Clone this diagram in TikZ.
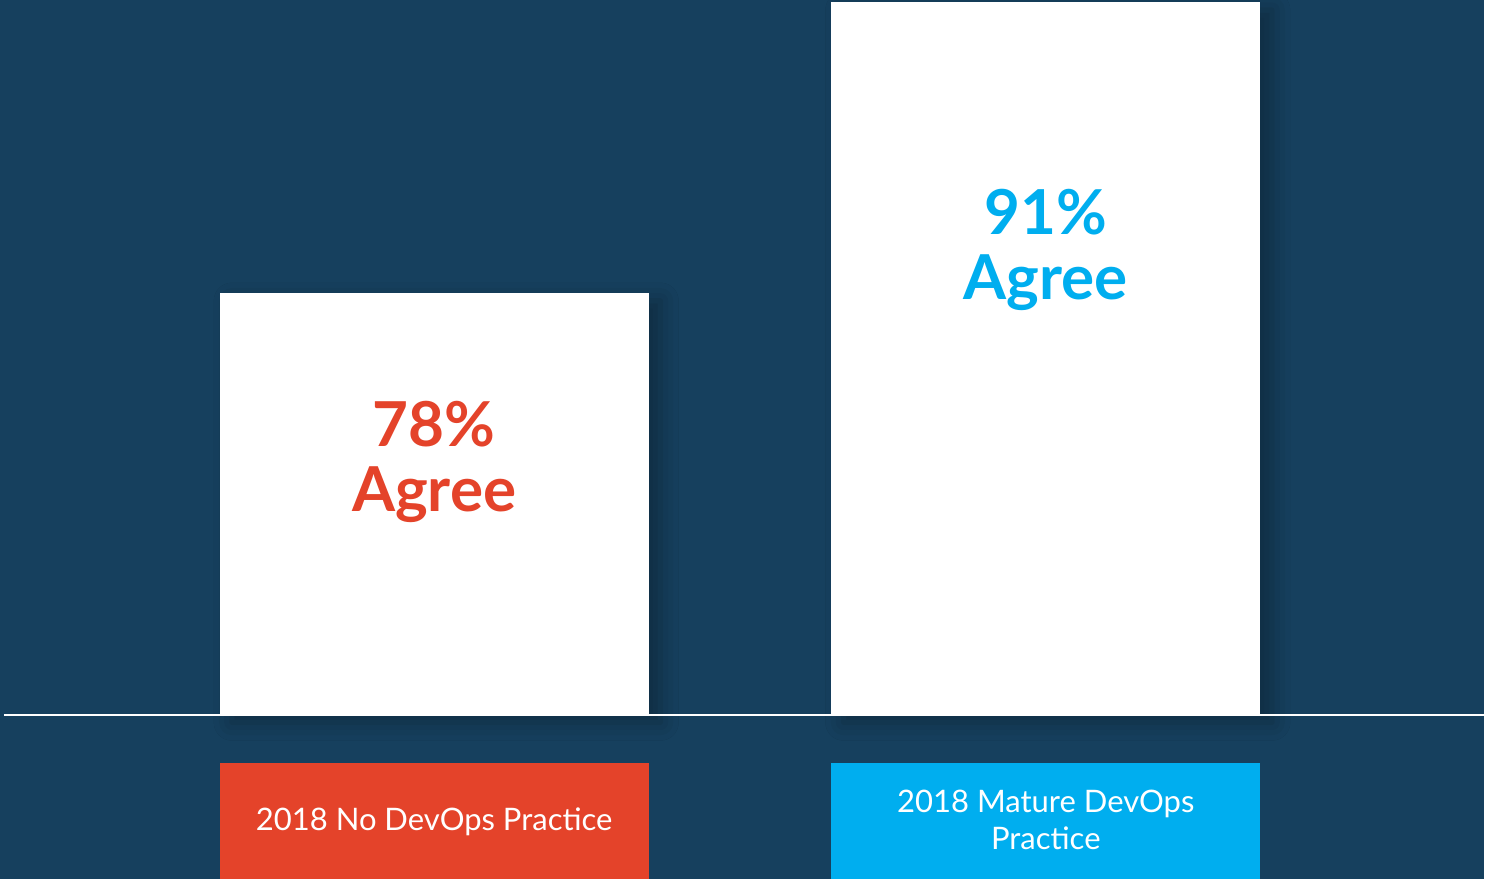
\documentclass[tikz,border=0pt]{standalone}
\usepackage{fontspec}
\setmainfont{Lato}
\usetikzlibrary{shadows.blur}
\definecolor{navy}{HTML}{16405E}
\definecolor{agreered}{HTML}{E4432A}
\definecolor{agreeblue}{HTML}{00AEEF}
\begin{document}
\begin{tikzpicture}[x=1pt,y=1pt,
    bar/.style={fill=white,blur shadow={shadow xshift=12pt,shadow yshift=-8pt,shadow blur radius=18pt,shadow opacity=30}},
    pct/.style={anchor=base,font=\fontsize{62}{66}\selectfont\bfseries},
    tag/.style={align=center,text=white,font=\fontsize{31}{37}\selectfont}]
      \fill[navy] (0,0) rectangle (1485,880);
      \path[bar] (220,165) rectangle (649,587);
      \path[bar] (832,165) rectangle (1261,878);
      \coordinate (axisL) at (4,165);
      \coordinate (axisR) at (1485,165);
      \draw[white,line width=2pt] (axisL) -- (axisR);
      \node[pct,text=agreered] (pctNo) at (434.5,433) {78\%};
      \node[pct,text=agreered] (agreeNo) at (434.5,368) {Agree};
      \node[pct,text=agreeblue] (pctMature) at (1046.5,645) {91\%};
      \node[pct,text=agreeblue] (agreeMature) at (1046.5,580) {Agree};
      \fill[agreered] (220,0) rectangle (649,116);
      \fill[agreeblue] (832,0) rectangle (1261,116);
      \node[tag] (tagNo) at (434.5,58) {2018 No DevOps Practice};
      \node[tag] (tagMature) at (1046.5,60) {2018 Mature DevOps\\Practice};
    \end{tikzpicture}
\end{document}
